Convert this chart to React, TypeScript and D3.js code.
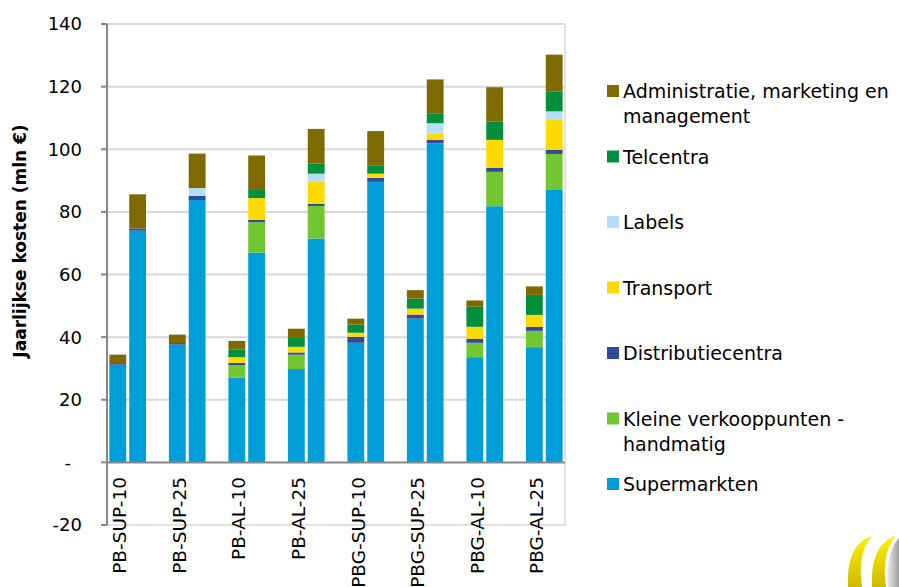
import React from 'react';
import * as d3 from 'd3';

// ---- data ----
const scenarios = ['PB-SUP-10', 'PB-SUP-25', 'PB-AL-10', 'PB-AL-25', 'PBG-SUP-10', 'PBG-SUP-25', 'PBG-AL-10', 'PBG-AL-25'];
const seriesNames = [
  'Supermarkten',
  'Kleine verkooppunten - handmatig',
  'Distributiecentra',
  'Transport',
  'Labels',
  'Telcentra',
  'Administratie, marketing en management',
];
// 16 bars: two per scenario
const supermarkten = [31.2, 74.0, 37.6, 83.8, 27.1, 67.0, 29.8, 71.5, 38.2, 89.6, 45.9, 101.9, 33.6, 81.8, 36.8, 87.0];
const kleineVerkooppunten = [0, 0, 0, 0, 4.0, 9.7, 4.6, 10.4, 0, 0, 0, 0, 4.6, 11.0, 5.2, 11.5];
const distributiecentra = [0.5, 0.7, 0.5, 1.3, 0.7, 0.7, 0.7, 0.7, 1.9, 1.3, 1.3, 1.1, 1.3, 1.3, 1.3, 1.3];
const transport = [0, 0, 0, 0, 1.8, 7.0, 1.8, 7.0, 1.3, 1.3, 1.9, 2.0, 3.8, 8.9, 3.8, 9.6];
const labels = [0, 0, 0, 2.5, 0, 0, 0, 2.6, 0, 0, 0, 3.3, 0, 0, 0, 2.7];
const telcentra = [0, 0, 0, 0, 2.5, 2.6, 3.1, 3.2, 2.6, 2.7, 3.2, 3.2, 6.4, 5.8, 6.4, 6.4];
const administratie = [2.7, 10.9, 2.7, 11.0, 2.7, 11.0, 2.7, 11.1, 1.9, 10.9, 2.7, 10.8, 2.0, 11.0, 2.7, 11.7];
const seriesValues = [supermarkten, kleineVerkooppunten, distributiecentra, transport, labels, telcentra, administratie];
const seriesColors = ['#009ED9', '#72C62F', '#2F4A9A', '#FFDA00', '#B7DEF8', '#00903C', '#7F6A00'];
const yTicks = [-20, 0, 20, 40, 60, 80, 100, 120, 140];
const yTitle = 'Jaarlijkse kosten (mln €)';

// ---- layout ----
const W = 899;
const H = 587;
const plotLeft = 107;
const plotRight = 565;
const plotTop = 24;
const plotBottom = 525;
const FONT = 'DejaVu Sans';

function wrap(text: string, maxChars: number): string[] {
  const words = text.split(' ');
  const lines: string[] = [];
  let cur = '';
  for (const w of words) {
    const t = cur ? cur + ' ' + w : w;
    if (t.length > maxChars && cur) {
      lines.push(cur);
      cur = w;
    } else cur = t;
  }
  if (cur) lines.push(cur);
  return lines;
}

export default function App() {
  // slots: two bars per scenario + empty gap slot between scenarios
  const slotKeys: string[] = [];
  scenarios.forEach((s, i) => {
    slotKeys.push(s + '|a', s + '|b');
    if (i < scenarios.length - 1) slotKeys.push(s + '|gap');
  });
  const barKeys = scenarios.flatMap((s) => [s + '|a', s + '|b']);

  const x = d3.scaleBand<string>().domain(slotKeys).range([plotLeft, plotRight]).paddingInner(0.15).paddingOuter(0.12);
  const y = d3.scaleLinear().domain([-20, 140]).range([plotBottom, plotTop]);

  const keys = seriesNames.map((_, i) => 's' + i);
  const rows = barKeys.map((k, j) => {
    const r: any = { key: k };
    seriesValues.forEach((arr, i) => (r['s' + i] = arr[j]));
    return r;
  });
  const stacked = d3.stack<any>().keys(keys)(rows);

  const legendOrder = [6, 5, 4, 3, 2, 1, 0];
  const legendY0 = 91;
  const legendStep = 65.5;

  return (
    <svg width={W} height={H} style={{ position: 'absolute', left: 0, top: 0, background: '#fff' }} fontFamily={FONT}>
      <rect x={0} y={0} width={W} height={H} fill="#fff" />
      {/* gridlines */}
      {yTicks.filter((t) => t > 0).map((t) => (
        <line key={'g' + t} x1={plotLeft} x2={plotRight} y1={y(t)} y2={y(t)} stroke="#D9D9D9" strokeWidth={2} />
      ))}
      {/* plot border right and bottom */}
      <line x1={plotRight} x2={plotRight} y1={plotTop} y2={plotBottom} stroke="#D9D9D9" strokeWidth={1.5} />
      <line x1={plotLeft} x2={plotRight} y1={plotBottom} y2={plotBottom} stroke="#D9D9D9" strokeWidth={1.5} />

      {/* bars */}
      {stacked.map((layer, si) => (
        <g key={layer.key} fill={seriesColors[si]}>
          {layer.map((d, j) => {
            const h = y(d[0]) - y(d[1]);
            if (h <= 0) return null;
            return <rect key={j} x={x(barKeys[j])} y={y(d[1])} width={x.bandwidth()} height={h} />;
          })}
        </g>
      ))}

      {/* axes */}
      <line x1={plotLeft} x2={plotRight} y1={y(0)} y2={y(0)} stroke="#868686" strokeWidth={2} />
      <line x1={plotLeft} x2={plotLeft} y1={plotTop} y2={plotBottom} stroke="#868686" strokeWidth={2} />
      {yTicks.map((t) => (
        <g key={'t' + t}>
          <line x1={plotLeft - 6} x2={plotLeft} y1={y(t)} y2={y(t)} stroke="#868686" strokeWidth={2} />
          <text x={t === 0 ? 71 : 82} y={y(t)} dy="0.36em" textAnchor="end" fontSize={18} fill="#000">
            {t === 0 ? '-' : String(t)}
          </text>
        </g>
      ))}
      {/* x labels */}
      {scenarios.map((s) => {
        const cx = (x(s + '|a') as number) + x.bandwidth() / 2 + 2;
        return (
          <text key={s} transform={`translate(${cx},477) rotate(-90)`} textAnchor="end" dy="0.36em" fontSize={18.5} fill="#000">
            {s}
          </text>
        );
      })}
      {/* y title */}
      <text transform="translate(20,241) rotate(-90)" textAnchor="middle" dy="0.36em" fontSize={17} fontWeight="bold" fill="#000">
        {yTitle}
      </text>

      {/* legend */}
      {legendOrder.map((si, li) => {
        const cy = legendY0 + li * legendStep;
        const lines = wrap(seriesNames[si], 27);
        return (
          <g key={'l' + si}>
            <rect x={607} y={cy - 6} width={12} height={12} fill={seriesColors[si]} />
            {lines.map((ln, k) => (
              <text key={k} x={623} y={cy + 7 + k * 25} fontSize={19} fill="#000">
                {ln}
              </text>
            ))}
          </g>
        );
      })}

      {/* logo */}
      <defs>
        <linearGradient id="yel" x1="0" y1="0" x2="0" y2="1">
          <stop offset="0" stopColor="#FFF000" />
          <stop offset="1" stopColor="#CDBA00" />
        </linearGradient>
        <linearGradient id="gry" x1="0" y1="0" x2="1" y2="0">
          <stop offset="0" stopColor="#EEEEEE" />
          <stop offset="1" stopColor="#9C9C9C" />
        </linearGradient>
      </defs>
      <path d="M 872 536 Q 846 544 848 587 L 862 587 Q 857 553 872 536 Z" fill="url(#yel)" />
      <path d="M 896 536 Q 870 544 872 587 L 886 587 Q 881 553 896 536 Z" fill="url(#yel)" />
      <path d="M 899 538 Q 885 553 888 587 L 899 587 Z" fill="url(#gry)" />
    </svg>
  );
}
